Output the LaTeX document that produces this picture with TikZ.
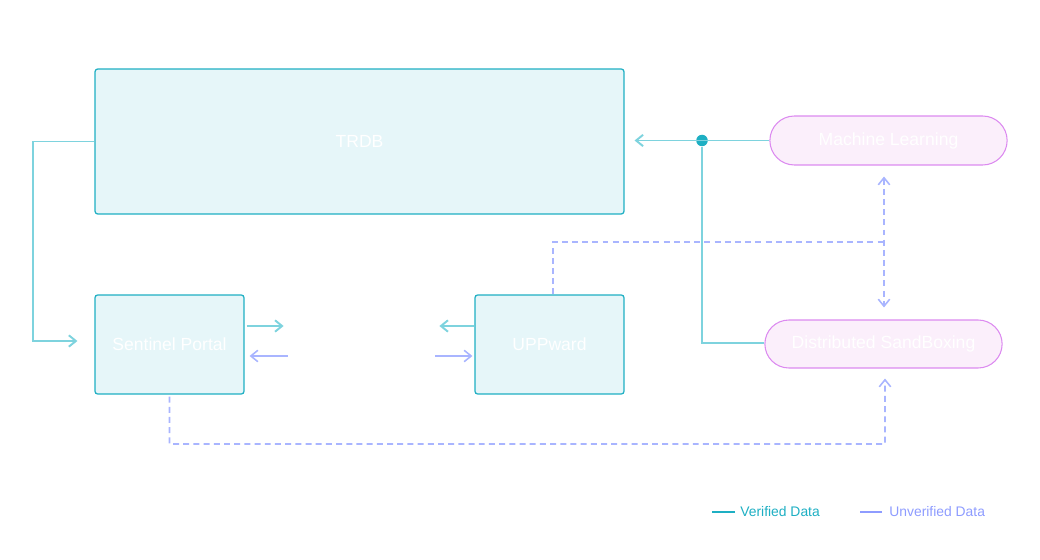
\documentclass[tikz,border=0pt]{standalone}
\usepackage{fontspec}
\setmainfont{Liberation Sans}
\usetikzlibrary{positioning,shapes.misc,arrows.meta,calc}
\definecolor{boxfill}{HTML}{E6F6F9}
\definecolor{boxline}{HTML}{1EAFC3}
\definecolor{verline}{HTML}{7ED3DE}
\definecolor{unvline}{HTML}{A9B5FF}
\definecolor{unvtext}{HTML}{8E9CFF}
\definecolor{pillfill}{HTML}{FBEFFB}
\definecolor{pillline}{HTML}{DC8AF0}
\tikzset{
	sysbox/.style={draw=boxline,fill=boxfill,line width=0.7pt,rounded corners=1.5pt,text=white,font=\fontsize{10}{12}\selectfont},
	pill/.style={rounded rectangle,draw=pillline,fill=pillfill,line width=0.6pt,text=white,minimum width=4.98cm,font=\fontsize{10}{12}\selectfont},
	ver/.style={draw=verline,line width=1.1pt},
	unv/.style={draw=unvline,line width=0.9pt},
	dashline/.style={dash pattern=on 3.4pt off 2.4pt},
	tip/.style={-{Straight Barb[length=4pt,width=6.5pt]}},
	bothtips/.style={{Straight Barb[length=4pt,width=6.5pt]}-{Straight Barb[length=4pt,width=6.5pt]}},
	legend/.style={anchor=west,font=\fontsize{7.9}{9}\selectfont,inner sep=0pt}
}

\begin{document}
\begin{tikzpicture}[x=0.02cm,y=-0.02cm]
		\useasboundingbox (0,0) rectangle (1040,560);
		% boxes
		\node[sysbox,minimum width=10.58cm,minimum height=2.9cm] (trdb) at (359.5,141.5) {TRDB};
		\node[sysbox,minimum width=2.98cm,minimum height=1.98cm] (sp) at (169.5,344.5) {Sentinel Portal};
		\node[sysbox,minimum width=2.98cm,minimum height=1.98cm] (upp) at (549.5,344.5) {UPPward};
		\node[pill,minimum height=0.98cm] (ml) at (888.5,140.5) {Machine Learning};
		\node[pill,minimum height=0.96cm] (ds) at (883.5,344) {Distributed SandBoxing};
		\node[circle,fill=boxline,inner sep=0pt,minimum size=0.23cm] (j) at (702,140.5) {};
		\coordinate (mid) at (884,242);
		% verified data
		\draw[ver,tip,shorten >=0.34cm] (trdb.west) -- (33,141.5) |- ($(sp.west)+(0,-3.5)$);
		\draw[ver,tip] ($(sp.east)+(2,-18.5)$) -- ++(37,0);
		\draw[ver,tip] ($(upp.west)+(0,-18.5)$) -- ++(-35,0);
		\draw[ver,tip,shorten >=0.2cm] (ml.west) -- (trdb.east |- ml.west);
		\draw[ver] (j) |- ($(ds.west)+(0,-1)$);
		% unverified data
		\draw[unv,tip] ($(sp.east)+(43,11.5)$) -- ++(-38,0);
		\draw[unv,tip] ($(upp.west)+(-39,11.5)$) -- ++(37,0);
		\draw[unv,dashline] ($(upp.north)+(3.5,0)$) |- (mid);
		\draw[unv,dashline,bothtips,shorten <=0.22cm,shorten >=0.24cm] (ml.south -| mid) -- (ds.north -| mid);
		\draw[unv,dashline,tip,shorten >=0.2cm] ($(sp.south)+(0,2)$) |- (885,444) -- ($(ds.south)+(1.5,0)$);
		% legend
		\node[legend,text=boxline] (verkey) at (740,512) {Verified Data};
		\node[legend,text=unvtext] (unvkey) at (889,512) {Unverified Data};
		\draw[ver,draw=boxline] ($(verkey.west)+(-5,0)$) -- ++(-23,0);
		\draw[unv,draw=unvtext] ($(unvkey.west)+(-7,0)$) -- ++(-22,0);
	\end{tikzpicture}
\end{document}
